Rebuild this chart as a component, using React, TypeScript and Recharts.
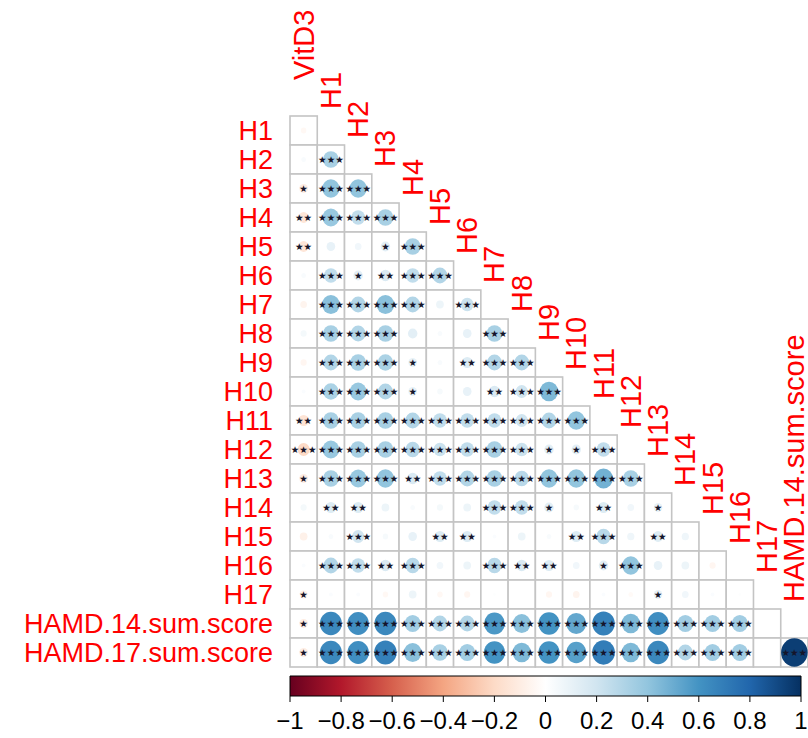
import React from 'react';
import { ScatterChart, Scatter, XAxis, YAxis, ComposedChart, Bar } from 'recharts';

const rowLabels = ['H1', 'H2', 'H3', 'H4', 'H5', 'H6', 'H7', 'H8', 'H9', 'H10', 'H11', 'H12', 'H13', 'H14', 'H15', 'H16', 'H17', 'HAMD.14.sum.score', 'HAMD.17.sum.score'];
const colLabels = ['VitD3', 'H1', 'H2', 'H3', 'H4', 'H5', 'H6', 'H7', 'H8', 'H9', 'H10', 'H11', 'H12', 'H13', 'H14', 'H15', 'H16', 'H17', 'HAMD.14.sum.score'];

// lower triangle, row i has i+1 values (cols VitD3 .. previous variable)
const corr: number[][] = [
  [-0.04],
  [0.03, 0.33],
  [-0.1, 0.4, 0.4],
  [-0.14, 0.38, 0.25, 0.33],
  [-0.14, 0.1, 0.06, 0.12, 0.33],
  [0.03, 0.25, 0.12, 0.16, 0.25, 0.3],
  [-0.06, 0.42, 0.3, 0.42, 0.3, 0.08, 0.22],
  [0.05, 0.33, 0.3, 0.33, 0.12, 0.03, 0.1, 0.33],
  [-0.05, 0.3, 0.33, 0.32, 0.1, 0.03, 0.15, 0.3, 0.3],
  [0.02, 0.32, 0.38, 0.3, 0.1, 0.04, 0.1, 0.16, 0.2, 0.45],
  [-0.15, 0.33, 0.33, 0.33, 0.3, 0.25, 0.25, 0.25, 0.2, 0.3, 0.4],
  [-0.2, 0.38, 0.33, 0.33, 0.28, 0.22, 0.25, 0.33, 0.22, 0.12, 0.12, 0.25],
  [-0.1, 0.33, 0.38, 0.4, 0.16, 0.25, 0.3, 0.33, 0.28, 0.4, 0.4, 0.48, 0.33],
  [0.05, 0.15, 0.15, 0.08, 0.03, 0.05, 0.08, 0.25, 0.25, 0.12, 0.04, 0.15, 0.06, 0.1],
  [-0.08, 0.03, 0.2, 0.04, 0.1, 0.15, 0.15, 0.02, 0.08, 0.03, 0.15, 0.28, 0.07, 0.14, 0.07],
  [0.02, 0.3, 0.25, 0.16, 0.28, 0.06, 0.08, 0.28, 0.16, 0.15, 0.06, 0.12, 0.4, 0.1, 0.08, -0.05],
  [-0.08, 0.02, 0.02, -0.04, 0.08, -0.04, -0.05, 0.01, 0.0, -0.05, -0.06, 0.02, -0.03, 0.1, 0.06, 0.02, 0.01],
  [-0.1, 0.65, 0.62, 0.65, 0.35, 0.3, 0.3, 0.58, 0.42, 0.6, 0.52, 0.68, 0.45, 0.62, 0.35, 0.35, 0.35, 0.0],
  [-0.1, 0.65, 0.62, 0.68, 0.42, 0.33, 0.35, 0.6, 0.45, 0.6, 0.55, 0.7, 0.45, 0.65, 0.3, 0.35, 0.35, 0.0, 0.95],
];

const stars: string[][] = [
  [''],
  ['', '***'],
  ['*', '***', '***'],
  ['**', '***', '***', '***'],
  ['**', '', '', '*', '***'],
  ['', '***', '*', '**', '***', '***'],
  ['', '***', '***', '***', '***', '', '***'],
  ['', '***', '***', '***', '', '', '', '***'],
  ['', '***', '***', '***', '*', '', '**', '***', '***'],
  ['', '***', '***', '***', '*', '', '', '**', '***', '***'],
  ['**', '***', '***', '***', '***', '***', '***', '***', '***', '***', '***'],
  ['***', '***', '***', '***', '***', '***', '***', '***', '***', '*', '*', '***'],
  ['*', '***', '***', '***', '**', '***', '***', '***', '***', '***', '***', '***', '***'],
  ['', '**', '**', '', '', '', '', '***', '***', '*', '', '**', '', '*'],
  ['', '', '***', '', '', '**', '**', '', '', '', '**', '***', '', '**', ''],
  ['', '***', '***', '**', '***', '', '', '***', '**', '**', '', '*', '***', '', '', ''],
  ['*', '', '', '', '', '', '', '', '', '', '', '', '', '*', '', '', ''],
  ['*', '***', '***', '***', '***', '***', '***', '***', '***', '***', '***', '***', '***', '***', '***', '***', '***', ''],
  ['*', '***', '***', '***', '***', '***', '***', '***', '***', '***', '***', '***', '***', '***', '***', '***', '***', '', '***'],
];

const barTicks = [-1, -0.8, -0.6, -0.4, -0.2, 0, 0.2, 0.4, 0.6, 0.8, 1];
const colorbarData = [{ name: 'corr', range: [-1, 1] }];

const palette = ['#67001F', '#B2182B', '#D6604D', '#F4A582', '#FDDBC7', '#FFFFFF', '#D1E5F0', '#92C5DE', '#4393C3', '#2166AC', '#053061'];

const FONT = '"Liberation Sans", Arial, sans-serif';
const W = 808;
const TOP = 116;
const LEFT = 290;
const MAIN_H = 670;
const N = 19;
const cellW = (W - LEFT) / N;
const cellH = (MAIN_H - TOP - 3) / N;

function hex(c: string) {
  return [1, 3, 5].map((i) => parseInt(c.slice(i, i + 2), 16));
}

function colorFor(v: number) {
  const t = ((v + 1) / 2) * (palette.length - 1);
  const i = Math.min(palette.length - 2, Math.floor(t));
  const f = t - i;
  const a = hex(palette[i]);
  const b = hex(palette[i + 1]);
  const m = a.map((x, k) => Math.round(x + (b[k] - x) * f));
  return `rgb(${m[0]},${m[1]},${m[2]})`;
}

const cells = corr.flatMap((row, r) =>
  row.map((v, c) => ({ x: c + 0.5, y: r + 0.5, v, s: stars[r][c] }))
);
const colLabelPts = colLabels.map((name, c) => ({ x: c + 0.5, y: c, name }));
const rowTicks = rowLabels.map((_, i) => i + 0.5);

const CellShape = (props: any) => {
  const { cx, cy, payload } = props;
  const k = Math.sqrt(Math.abs(payload.v));
  return (
    <g>
      <rect x={cx - cellW / 2} y={cy - cellH / 2} width={cellW} height={cellH} fill="#fff" stroke="#C4C4C4" strokeWidth={1.6} />
      {k > 0 && <ellipse cx={cx} cy={cy} rx={(k * cellW) / 2} ry={(k * cellH) / 2} fill={colorFor(payload.v)} />}
      {payload.s && (
        <text x={cx} y={cy} textAnchor="middle" dominantBaseline="central" fontSize={9.5} fontFamily="DejaVu Sans" fill="#15152a">
          {payload.s.replace(/\*/g, '\u2605')}
        </text>
      )}
    </g>
  );
};

const ColLabel = (props: any) => {
  const { cx, cy, payload } = props;
  const y = cy - 36;
  return (
    <text x={cx} y={y} transform={`rotate(-90 ${cx} ${y})`} textAnchor="start" dominantBaseline="central" fontSize={29} fontFamily={FONT} fill="#FF0000">
      {payload.name}
    </text>
  );
};

const fmt = (v: number) => (v < 0 ? '\u2212' + Math.abs(v) : String(v));

export default function App() {
  return (
    <div style={{ position: 'absolute', left: 0, top: 0, width: W, height: 738, background: '#fff' }}>
      <div style={{ position: 'absolute', left: 0, top: 0 }}>
        <ScatterChart width={W} height={MAIN_H} margin={{ top: TOP, right: 0, bottom: 3, left: 0 }}>
          <XAxis type="number" dataKey="x" domain={[0, N]} hide />
          <YAxis
            type="number"
            dataKey="y"
            domain={[0, N]}
            reversed
            width={LEFT}
            ticks={rowTicks}
            interval={0}
            tickFormatter={(v: number) => rowLabels[Math.floor(v)]}
            axisLine={false}
            tickLine={false}
            tickSize={0}
            tickMargin={17}
            tick={{ fill: '#FF0000', fontSize: 27, fontFamily: FONT }}
          />
          <Scatter data={cells} shape={<CellShape />} isAnimationActive={false} />
          <Scatter data={colLabelPts} shape={<ColLabel />} isAnimationActive={false} />
        </ScatterChart>
      </div>
      <div style={{ position: 'absolute', left: 0, top: MAIN_H }}>
        <ComposedChart layout="vertical" width={W} height={68} data={colorbarData} barCategoryGap={0} margin={{ top: 6, right: 7, bottom: 0, left: LEFT }}>
          <defs>
            <linearGradient id="rdbu" x1="0" y1="0" x2="1" y2="0">
              {palette.map((c, i) => (
                <stop key={i} offset={`${(i / (palette.length - 1)) * 100}%`} stopColor={c} />
              ))}
            </linearGradient>
          </defs>
          <XAxis
            type="number"
            domain={[-1, 1]}
            ticks={barTicks}
            interval={0}
            axisLine={false}
            tickSize={6}
            tickLine={{ stroke: '#000' }}
            tickMargin={10}
            height={42}
            tickFormatter={fmt}
            tick={{ fill: '#000', fontSize: 24, fontFamily: FONT }}
          />
          <YAxis type="category" dataKey="name" hide />
          <Bar dataKey="range" fill="url(#rdbu)" stroke="#000" strokeWidth={1} isAnimationActive={false} />
        </ComposedChart>
      </div>
    </div>
  );
}
